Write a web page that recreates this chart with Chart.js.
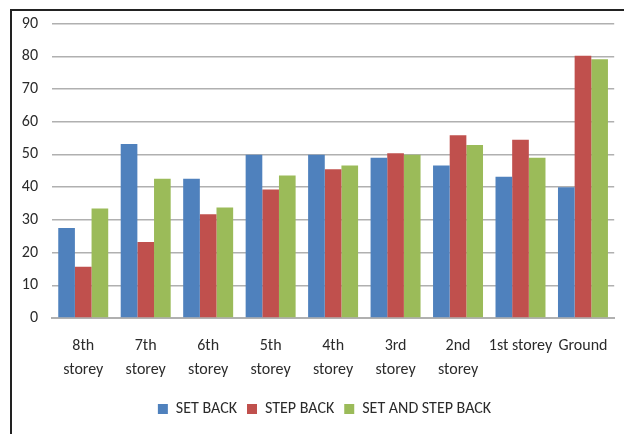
<!DOCTYPE html>
<html>
<head>
<meta charset="utf-8">
<script src="https://cdn.jsdelivr.net/npm/chart.js@4/dist/chart.umd.min.js"></script>
<style>
  html, body { margin: 0; padding: 0; background: #fff; }
  #wrap { position: relative; width: 624px; height: 434px; }
  #frame { position: absolute; left: 10px; top: 9px; right: 0; bottom: 0;
           border-left: 2px solid #222; border-top: 2px solid #222; }
  canvas { position: absolute; left: 0; top: 0; }
</style>
</head>
<body>
<div id="wrap">
  <div id="frame"></div>
  <canvas id="c" width="624" height="434"></canvas>
</div>
<script>
const categories = [["8th", "storey"], ["7th", "storey"], ["6th", "storey"], ["5th", "storey"],
                    ["4th", "storey"], ["3rd", "storey"], ["2nd", "storey"], "1st storey", "Ground"];
const setBack     = [27.5, 53.2, 42.6, 49.9, 49.9, 49.0, 46.6, 43.2, 40.0];
const stepBack    = [15.7, 23.2, 31.7, 39.3, 45.5, 50.4, 55.9, 54.5, 80.2];
const setStepBack = [33.5, 42.6, 33.8, 43.6, 46.6, 49.9, 52.9, 49.0, 79.1];
const yTicks = [0, 10, 20, 30, 40, 50, 60, 70, 80, 90];

const FONT = "Carlito, 'Liberation Sans Narrow', 'Liberation Sans', sans-serif";
const TEXT = "#2b2b2b";

// nudge the legend row a little to the right of the canvas centre
const legendShift = {
  id: "legendShift",
  afterLayout(chart) {
    const lg = chart.legend;
    if (lg) { lg.left += 17; lg.right += 17; }
  }
};

new Chart(document.getElementById("c"), {
  type: "bar",
  data: {
    labels: categories,
    datasets: [
      { label: "SET BACK", data: setBack, backgroundColor: "#4F81BD" },
      { label: "STEP BACK", data: stepBack, backgroundColor: "#C0504D" },
      { label: "SET AND STEP BACK", data: setStepBack, backgroundColor: "#9BBB59" }
    ]
  },
  plugins: [legendShift],
  options: {
    responsive: false,
    animation: false,
    layout: { padding: { left: 0, right: 9, top: 20, bottom: 7 } },
    datasets: { bar: { categoryPercentage: 0.8, barPercentage: 1.0 } },
    plugins: {
      tooltip: { enabled: false },
      legend: {
        position: "bottom",
        labels: {
          boxWidth: 10, boxHeight: 10, padding: 10,
          color: TEXT, font: { family: FONT, size: 16 }
        }
      }
    },
    scales: {
      x: {
        grid: { display: false, drawTicks: false },
        border: { display: true, color: "#b0b0b0", width: 2 },
        ticks: { color: TEXT, font: { family: FONT, size: 16, lineHeight: 1.5 },
                 padding: 16, maxRotation: 0, autoSkip: false },
        afterFit: (s) => { s.height = 73; }
      },
      y: {
        min: 0, max: 90,
        afterBuildTicks: (s) => { s.ticks = yTicks.map(v => ({ value: v })); },
        grid: { color: "#b0b0b0", lineWidth: 1.5, drawTicks: false },
        border: { display: false },
        ticks: { color: TEXT, font: { family: FONT, size: 16 }, padding: 14 },
        afterFit: (s) => { s.width = 52; }
      }
    }
  }
});
</script>
</body>
</html>
